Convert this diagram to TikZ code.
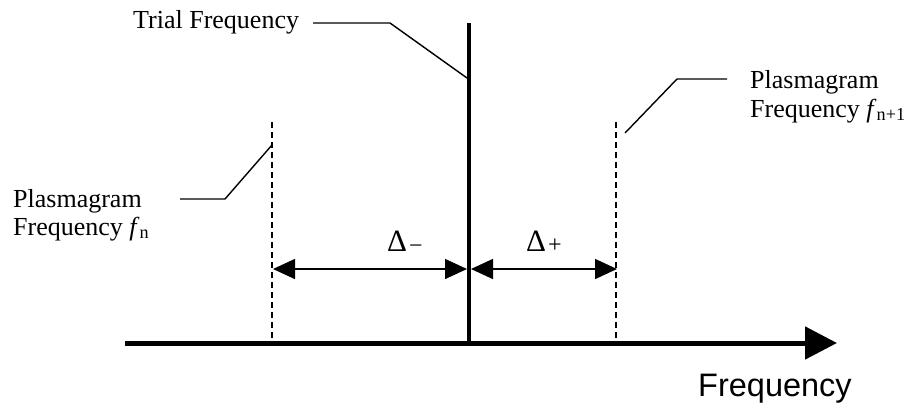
\documentclass[tikz,border=0pt]{standalone}
\usepackage{fontspec}
\setmainfont{Liberation Serif}
\newfontfamily\axisfont{Liberation Sans}
\usetikzlibrary{arrows.meta}
\begin{document}
\begin{tikzpicture}[x=1pt,y=-1pt,
  lbl/.style={inner sep=0pt, anchor=base west, font=\fontsize{26}{29}\selectfont},
  dlbl/.style={inner sep=0pt, anchor=base west, font=\fontsize{31}{34}\selectfont},
  leader/.style={line width=1.4pt},
  guide/.style={line width=1.3pt, dash pattern=on 6pt off 4pt},
  dimtip/.tip={Triangle[length=22pt,width=20pt]},
  dim/.style={line width=1.5pt, dimtip-dimtip}]
\useasboundingbox (0,0) rectangle (907,407);
% axis
\coordinate (ax0) at (125,343);
\coordinate (ax1) at (837,343);
\draw[line width=5pt, -{Triangle[length=32pt,width=32pt]}] (ax0) -- (ax1);
\node[inner sep=0pt, anchor=base west, font=\axisfont\fontsize{32.5}{36}\selectfont] (axl) at (698,396) {Frequency};
% trial frequency line
\coordinate (t0) at (469,345);
\coordinate (t1) at (469,23);
\draw[line width=4.5pt] (t1) -- (t0);
% dashed plasmagram lines
\coordinate (l0) at (272,122);
\coordinate (l1) at (272,345);
\coordinate (r0) at (616,122);
\coordinate (r1) at (616,345);
\draw[guide] (l0) -- (l1);
\draw[guide] (r0) -- (r1);
% dimension arrows
\coordinate (dL) at (273,269);
\coordinate (dM1) at (467,269);
\coordinate (dM2) at (471,269);
\coordinate (dR) at (617,269);
\draw[dim] (dL) -- (dM1);
\draw[dim] (dM2) -- (dR);
\node[dlbl] (dminus) at (387,251) {Δ\hspace{2pt}\raisebox{-2pt}{\fontsize{24}{24}\selectfont −}};
\node[dlbl] (dplus) at (526,251) {Δ\hspace{2pt}\raisebox{-1pt}{\fontsize{24}{24}\selectfont +}};
% labels
\node[lbl] (trial) at (133,28) {Trial Frequency};
\node[lbl] (plL1) at (13,207) {Plasmagram};
\node[lbl] (plL2) at (13,235) {Frequency \textit{f}\textsubscript{n}};
\node[lbl] (plR1) at (750,88) {Plasmagram};
\node[lbl] (plR2) at (750,117) {Frequency \textit{f}\textsubscript{n+1}};
% leaders
\coordinate (tA) at (313,23);
\coordinate (tB) at (390,23);
\coordinate (tC) at (467,78);
\draw[leader] (tA) -- (tB) -- (tC);
\coordinate (lA) at (180,199);
\coordinate (lB) at (225,199);
\coordinate (lC) at (272,145);
\draw[leader] (lA) -- (lB) -- (lC);
\coordinate (rA) at (625,133);
\coordinate (rB) at (677,79);
\coordinate (rC) at (727,79);
\draw[leader] (rA) -- (rB) -- (rC);
\end{tikzpicture}
\end{document}
